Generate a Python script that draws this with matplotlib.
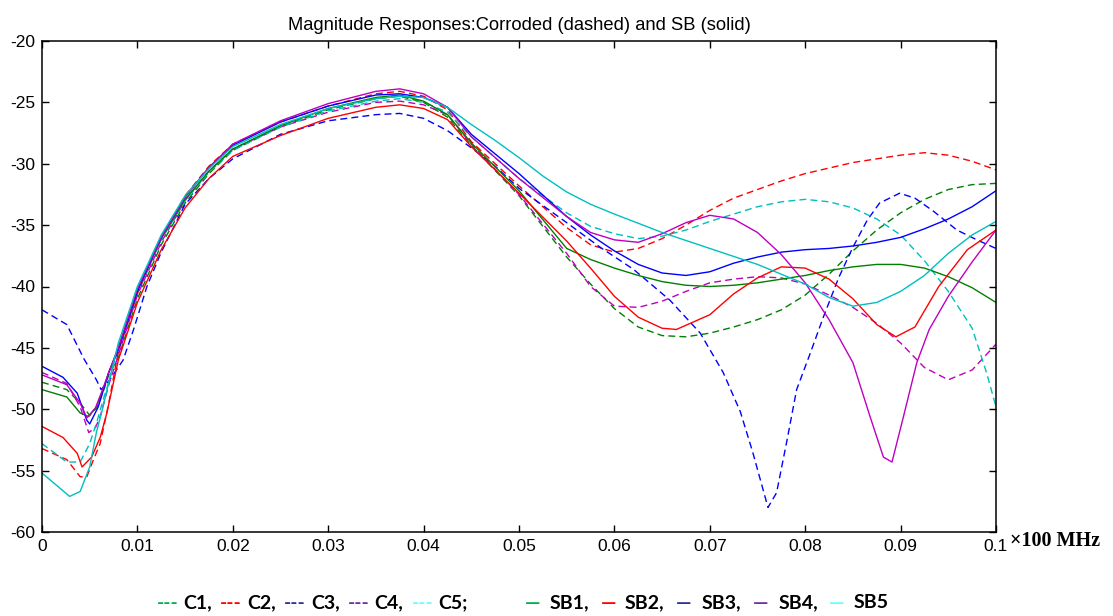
import matplotlib
matplotlib.use("Agg")
import matplotlib.pyplot as plt
import numpy as np

plt.rcParams["axes.unicode_minus"] = False

# ---------------------------------------------------------------------------
# Data
# ---------------------------------------------------------------------------

RISE_X = [0.008, 0.01, 0.0125, 0.015, 0.0175, 0.02, 0.025, 0.03, 0.035, 0.0375, 0.04, 0.0425]

# Corroded (dashed)
C1_X = [0, 0.0026, 0.004, 0.005, 0.0057, 0.0064, 0.007] + RISE_X + [
    0.045, 0.05, 0.055, 0.0575, 0.06, 0.0625, 0.065, 0.0675, 0.07, 0.0725, 0.075,
    0.0775, 0.08, 0.0825, 0.085, 0.0875, 0.09, 0.0925, 0.095, 0.0975, 0.1]
C1_Y = [-47.8, -48.4, -49.5, -50.5, -49.9, -48.6, -47.2,
        -45.8, -41.0, -36.6, -33.2, -30.8, -28.9, -27.0, -25.6, -24.7, -24.5, -25.0, -26.2,
        -28.5, -32.6, -37.6, -39.8, -41.8, -43.3, -44.0, -44.1, -43.8, -43.3, -42.7,
        -41.9, -40.7, -39.0, -37.1, -35.4, -34.0, -32.9, -32.1, -31.7, -31.6]

C2_X = [0, 0.0026, 0.004, 0.0047, 0.0054, 0.0061, 0.007] + RISE_X + [
    0.045, 0.05, 0.055, 0.0575, 0.06, 0.0625, 0.065, 0.0675, 0.07, 0.0725, 0.075,
    0.0775, 0.08, 0.085, 0.09, 0.0925, 0.095, 0.0975, 0.1]
C2_Y = [-53.2, -54.1, -55.5, -55.5, -54.1, -52.8, -49.5,
        -45.3, -40.6, -36.1, -32.6, -30.2, -28.4, -26.6, -25.3, -24.3, -24.1, -24.5, -25.6,
        -28.2, -31.8, -35.2, -36.6, -37.2, -36.9, -36.1, -35.0, -33.8, -32.8, -32.1,
        -31.4, -30.8, -29.9, -29.3, -29.1, -29.3, -29.8, -30.5]

C3_X = [0, 0.0026, 0.0044, 0.0057, 0.0062, 0.0071, 0.0085, 0.0096, 0.011, 0.0125, 0.015,
        0.0175, 0.02, 0.025, 0.03, 0.035, 0.0375, 0.04, 0.0425, 0.045, 0.0475, 0.05, 0.055,
        0.0585, 0.062, 0.0658, 0.069, 0.0714, 0.0732, 0.0745, 0.0761, 0.077, 0.0781, 0.0791,
        0.0805, 0.0819, 0.0835, 0.085, 0.0865, 0.0878, 0.0899, 0.0915, 0.0935, 0.0959, 0.098, 0.1]
C3_Y = [-41.9, -43.1, -45.9, -47.6, -48.4, -47.6, -46.0, -43.5, -40.0, -37.2, -33.3,
        -31.2, -29.6, -27.6, -26.5, -26.0, -25.9, -26.3, -27.3, -28.7, -30.2, -32.0, -34.8,
        -36.8, -38.6, -41.1, -43.8, -47.0, -50.2, -53.5, -58.0, -56.8, -52.5, -48.4,
        -45.5, -42.5, -39.3, -36.8, -34.6, -33.2, -32.4, -32.8, -33.9, -35.4, -36.2, -36.9]

C4_X = [0, 0.0026, 0.004, 0.0049, 0.0056, 0.0061, 0.007] + RISE_X + [
    0.045, 0.05, 0.055, 0.0575, 0.06, 0.0625, 0.065, 0.0675, 0.07, 0.0725, 0.075,
    0.0775, 0.08, 0.0825, 0.085, 0.0875, 0.09, 0.0925, 0.095, 0.0975, 0.1]
C4_Y = [-47.0, -47.9, -49.8, -51.9, -51.5, -50.6, -48.0,
        -45.6, -40.7, -36.4, -33.0, -30.6, -28.8, -27.0, -25.8, -25.0, -24.9, -25.2, -26.0,
        -28.4, -32.5, -37.3, -40.0, -41.6, -41.7, -41.2, -40.4, -39.7, -39.4, -39.2,
        -39.3, -39.8, -40.7, -41.7, -43.0, -44.6, -46.6, -47.6, -46.8, -44.7]

C5_X = [0, 0.0026, 0.004, 0.005, 0.0058, 0.0065, 0.007] + RISE_X + [
    0.045, 0.05, 0.055, 0.0575, 0.06, 0.0625, 0.065, 0.0675, 0.07, 0.0725, 0.075,
    0.0775, 0.08, 0.0825, 0.085, 0.0875, 0.09, 0.0925, 0.095, 0.0975, 0.099, 0.1]
C5_Y = [-52.8, -54.3, -54.3, -52.8, -50.9, -49.0, -47.8,
        -45.0, -40.4, -36.2, -33.0, -30.7, -28.9, -27.0, -25.7, -24.9, -24.7, -25.0, -25.8,
        -27.8, -31.2, -34.0, -35.1, -35.7, -36.1, -35.9, -35.4, -34.7, -34.1, -33.5,
        -33.1, -32.9, -33.1, -33.6, -34.5, -35.8, -37.9, -40.4, -43.4, -47.0, -49.8]

# SB (solid)
SB1_X = [0, 0.0026, 0.004, 0.0049, 0.0057, 0.0064, 0.007] + RISE_X + [
    0.045, 0.05, 0.055, 0.0575, 0.06, 0.0625, 0.065, 0.0675, 0.07, 0.0725, 0.075,
    0.0775, 0.08, 0.0825, 0.085, 0.0875, 0.09, 0.0925, 0.095, 0.0975, 0.1]
SB1_Y = [-48.4, -49.0, -50.3, -50.6, -49.8, -48.4, -47.0,
         -45.0, -40.3, -36.1, -32.9, -30.6, -28.8, -26.9, -25.5, -24.6, -24.4, -24.9, -26.0,
         -28.3, -32.2, -36.9, -37.8, -38.5, -39.1, -39.6, -39.9, -40.0, -39.9, -39.7,
         -39.4, -39.1, -38.7, -38.4, -38.2, -38.2, -38.5, -39.2, -40.1, -41.3]

SB2_X = [0, 0.0022, 0.0037, 0.0042, 0.0052, 0.0061, 0.0068] + RISE_X + [
    0.045, 0.05, 0.055, 0.0575, 0.06, 0.0625, 0.065, 0.0665, 0.07, 0.0725, 0.075,
    0.0775, 0.08, 0.0825, 0.085, 0.0875, 0.0895, 0.0915, 0.094, 0.097, 0.1]
SB2_Y = [-51.4, -52.3, -53.6, -54.7, -53.9, -52.3, -50.3,
         -46.0, -41.3, -37.0, -33.6, -31.2, -29.4, -27.7, -26.3, -25.4, -25.2, -25.5, -26.4,
         -28.6, -32.4, -36.3, -38.5, -40.8, -42.5, -43.4, -43.5, -42.3, -40.6, -39.3,
         -38.4, -38.5, -39.4, -41.0, -43.1, -44.1, -43.3, -40.0, -37.0, -35.4]

SB3_X = [0, 0.0022, 0.0037, 0.0047, 0.005, 0.0059, 0.007] + RISE_X + [
    0.045, 0.05, 0.055, 0.0575, 0.06, 0.0625, 0.065, 0.0675, 0.07, 0.0725, 0.075,
    0.0775, 0.08, 0.0825, 0.085, 0.0875, 0.09, 0.0925, 0.095, 0.0975, 0.1]
SB3_Y = [-46.5, -47.4, -48.7, -50.9, -51.2, -49.8, -47.0,
         -45.2, -40.4, -36.0, -32.7, -30.3, -28.5, -26.6, -25.3, -24.4, -24.3, -24.6, -25.4,
         -27.6, -30.8, -34.3, -35.8, -37.1, -38.2, -38.9, -39.1, -38.8, -38.1, -37.6,
         -37.2, -37.0, -36.9, -36.7, -36.4, -36.0, -35.3, -34.5, -33.5, -32.2]

SB4_X = [0, 0.0026, 0.004, 0.0047, 0.0056, 0.0063, 0.007] + RISE_X + [
    0.045, 0.05, 0.055, 0.0575, 0.06, 0.0625, 0.065, 0.0675, 0.07, 0.0725, 0.075,
    0.0775, 0.08, 0.0825, 0.085, 0.0868, 0.0882, 0.0891, 0.0903, 0.0917, 0.093,
    0.095, 0.0975, 0.1]
SB4_Y = [-47.2, -48.0, -49.5, -50.7, -49.9, -48.5, -47.0,
         -45.0, -40.2, -36.0, -32.7, -30.3, -28.4, -26.5, -25.1, -24.1, -23.9, -24.3, -25.4,
         -27.8, -31.2, -34.3, -35.6, -36.2, -36.4, -35.7, -34.8, -34.2, -34.5, -35.6,
         -37.4, -39.7, -42.7, -46.2, -50.6, -53.9, -54.3, -50.6, -46.2, -43.5,
         -40.8, -38.0, -35.4]

SB5_X = [0, 0.0029, 0.004, 0.005, 0.0057, 0.0064, 0.007] + RISE_X + [
    0.045, 0.0475, 0.05, 0.0525, 0.055, 0.0575, 0.06, 0.065, 0.07, 0.075, 0.08,
    0.0825, 0.085, 0.0875, 0.09, 0.0925, 0.095, 0.0975, 0.1]
SB5_Y = [-55.2, -57.1, -56.7, -54.7, -51.9, -49.8, -47.8,
         -44.6, -40.0, -35.8, -32.6, -30.4, -28.6, -26.8, -25.5, -24.7, -24.5, -24.6, -25.4,
         -26.8, -28.1, -29.5, -31.0, -32.3, -33.3, -34.1, -35.6, -36.9, -38.2, -39.8,
         -40.9, -41.6, -41.3, -40.4, -39.1, -37.3, -35.8, -34.7]

X_TICKS = [0, 0.01, 0.02, 0.03, 0.04, 0.05, 0.06, 0.07, 0.08, 0.09, 0.1]
X_TICK_LABELS = ["0", "0.01", "0.02", "0.03", "0.04", "0.05", "0.06", "0.07", "0.08", "0.09", "0.1"]
Y_TICKS = [-60, -55, -50, -45, -40, -35, -30, -25, -20]

TITLE = "Magnitude Responses:Corroded (dashed) and SB (solid)"

# MATLAB-ish plot colours
GREEN, RED, BLUE, MAGENTA, CYAN = "#008000", "#ff0000", "#0000ff", "#bf00bf", "#00bfbf"

# Colours used in the text legend underneath
LEG_GREEN, LEG_RED, LEG_BLUE, LEG_PURPLE, LEG_CYAN = "#00b050", "#ff0000", "#2e3192", "#7030a0", "#66ffff"

# ---------------------------------------------------------------------------
# Plot
# ---------------------------------------------------------------------------

W, H = 1113, 616
fig = plt.figure(figsize=(W / 100, H / 100), dpi=100)
ax = fig.add_axes([42 / W, 1 - 532 / H, (996 - 42) / W, (532 - 41) / H])

dashed = [(C1_X, C1_Y, GREEN), (C2_X, C2_Y, RED), (C3_X, C3_Y, BLUE),
          (C4_X, C4_Y, MAGENTA), (C5_X, C5_Y, CYAN)]
solid = [(SB1_X, SB1_Y, GREEN), (SB2_X, SB2_Y, RED), (SB3_X, SB3_Y, BLUE),
         (SB4_X, SB4_Y, MAGENTA), (SB5_X, SB5_Y, CYAN)]

for xs, ys, col in dashed:
    ax.plot(xs, ys, color=col, linewidth=1.0, dashes=(5, 3))
for xs, ys, col in solid:
    ax.plot(xs, ys, color=col, linewidth=1.0)

ax.set_xlim(0, 0.1)
ax.set_ylim(-60, -20)
ax.set_xticks(X_TICKS)
ax.set_xticklabels(X_TICK_LABELS)
ax.set_yticks(Y_TICKS)
ax.tick_params(direction="in", length=5, width=1, top=True, right=True,
               labelsize=12.5, pad=5)
for lab in ax.get_xticklabels() + ax.get_yticklabels():
    lab.set_family("Liberation Sans")
for sp in ax.spines.values():
    sp.set_linewidth(1.1)

ax.set_title(TITLE, fontsize=13.2, family="Liberation Sans", pad=8)

fig.text(1010 / W, 1 - 541 / H, "×100 MHz", fontsize=14.5, fontweight="bold",
         family="Liberation Serif", ha="left", va="center")

# text legend under the axes
legend_items = [
    ("---", LEG_GREEN, 157), ("C1,", "black", 183),
    ("---", LEG_RED, 220), ("C2,", "black", 247),
    ("---", LEG_BLUE, 284), ("C3,", "black", 311),
    ("---", LEG_PURPLE, 348), ("C4,", "black", 374),
    ("---", LEG_CYAN, 412), ("C5;", "black", 438),
    ("\u2014", LEG_GREEN, 525), ("SB1,", "black", 550),
    ("\u2014", LEG_RED, 601), ("SB2,", "black", 625),
    ("\u2014", LEG_BLUE, 676), ("SB3,", "black", 702),
    ("\u2014", LEG_PURPLE, 753), ("SB4,", "black", 779),
    ("\u2014", LEG_CYAN, 829), ("SB5", "black", 854),
]
for txt, col, xpx in legend_items:
    fig.text(xpx / W, 1 - 603 / H, txt, color=col, fontsize=14, fontweight="bold",
             family=["Lato", "DejaVu Sans"], ha="left", va="center")

fig.savefig("out.png", dpi=100, facecolor="white")
